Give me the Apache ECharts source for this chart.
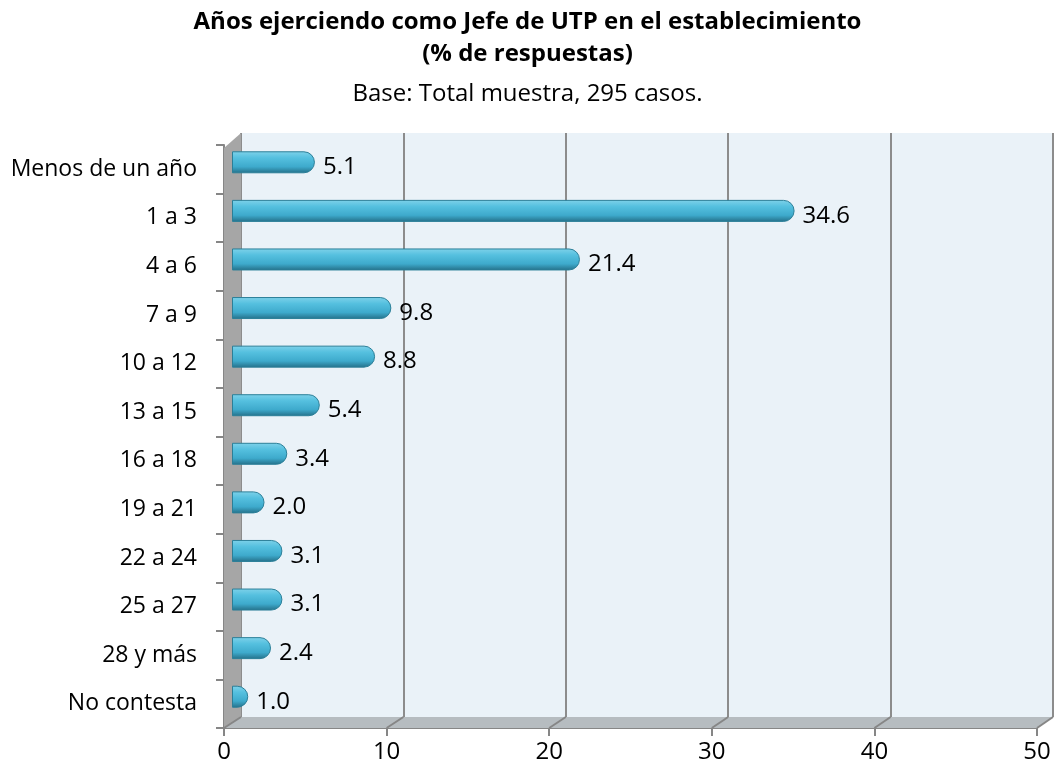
<!DOCTYPE html>
<html>
<head>
<meta charset="utf-8">
<script src="https://cdn.jsdelivr.net/npm/echarts@6/dist/echarts.min.js"></script>
<style>
  html, body { margin: 0; padding: 0; background: #fff; }
  #main { width: 1055px; height: 781px; }
</style>
</head>
<body>
<div id="main"></div>
<script>
// datos
var categories = ['Menos de un año', '1 a 3', '4 a 6', '7 a 9', '10 a 12', '13 a 15',
                  '16 a 18', '19 a 21', '22 a 24', '25 a 27', '28 y más', 'No contesta'];
var values = [5.1, 34.6, 21.4, 9.8, 8.8, 5.4, 3.4, 2.0, 3.1, 3.1, 2.4, 1.0];
var xMin = 0, xMax = 50, xStep = 10;

var font = '"Open Sans", "Noto Sans", sans-serif';

// grids: 0 = plano frontal (ejes), 1 = pared del fondo, 2 = barras (profundidad media)
var front = { left: 224, right: 18, top: 145, bottom: 53 };
var back  = { left: 241, right: 2,  top: 133, bottom: 64 };
var mid   = { left: 232, right: 10, top: 138, bottom: 60 };

var myChart = echarts.init(document.getElementById('main'));

myChart.setOption({
    animation: false,
    title: {
        text: 'Años ejerciendo como Jefe de UTP en el establecimiento\n(% de respuestas)',
        subtext: 'Base: Total muestra, 295 casos.',
        left: 'center',
        top: 1,
        itemGap: 9,
        textStyle: { fontFamily: font, fontSize: 24, fontWeight: 'bold', color: '#000', lineHeight: 32 },
        subtextStyle: { fontFamily: font, fontSize: 24, color: '#000', lineHeight: 30 }
    },
    grid: [
        { left: front.left, right: front.right, top: front.top, bottom: front.bottom, z: 3 },
        { left: back.left, right: back.right, top: back.top, bottom: back.bottom,
          show: true, backgroundColor: '#eaf2f8', borderWidth: 0, z: 0 },
        { left: mid.left, right: mid.right, top: mid.top, bottom: mid.bottom }
    ],
    xAxis: [
        {   // eje frontal con etiquetas
            gridIndex: 0, type: 'value', min: xMin, max: xMax, interval: xStep,
            axisLine: { show: true, lineStyle: { color: '#868686', width: 2 } },
            axisTick: { show: true, length: 8, lineStyle: { color: '#868686', width: 2 } },
            axisLabel: { fontFamily: font, fontSize: 24, color: '#000', margin: 12 },
            splitLine: { show: false }
        },
        {   // lineas de la pared del fondo
            gridIndex: 1, type: 'value', min: xMin, max: xMax, interval: xStep,
            axisLine: { show: false }, axisTick: { show: false }, axisLabel: { show: false },
            splitLine: { show: true, lineStyle: { color: '#8c8c8c', width: 2 } }
        },
        {
            gridIndex: 2, type: 'value', min: xMin, max: xMax, show: false
        }
    ],
    yAxis: [
        {
            gridIndex: 0, type: 'category', inverse: true, data: categories,
            axisLine: { show: true, lineStyle: { color: '#868686', width: 2 } },
            axisTick: { show: true, length: 8, lineStyle: { color: '#868686', width: 2 } },
            axisLabel: { fontFamily: font, fontSize: 23, color: '#000', margin: 27 }
        },
        { gridIndex: 1, type: 'category', inverse: true, data: categories, show: false },
        { gridIndex: 2, type: 'category', inverse: true, data: categories, show: false }
    ],
    series: [{
        type: 'bar',
        xAxisIndex: 2,
        yAxisIndex: 2,
        data: values,
        barWidth: 22,
        z: 5,
        itemStyle: {
            borderRadius: [0, 11, 11, 0],
            borderColor: '#2b7f98',
            borderWidth: 1,
            color: new echarts.graphic.LinearGradient(0, 0, 0, 1, [
                { offset: 0, color: '#7fd2ea' },
                { offset: 0.3, color: '#55c0df' },
                { offset: 0.7, color: '#3eaacc' },
                { offset: 1, color: '#246f88' }
            ])
        },
        label: {
            show: true,
            position: 'right',
            distance: 8,
            offset: [0, 5],
            fontFamily: font,
            fontSize: 24,
            color: '#000',
            formatter: function (p) { return p.value.toFixed(1); }
        }
    }]
});

// pared izquierda, piso y lineas del piso (decoracion 3D)
var W = myChart.getWidth(), H = myChart.getHeight();
var fL = front.left, fR = W - front.right, fT = front.top + 3, fB = H - front.bottom;
var bL = back.left, bR = W - back.right, bT = back.top, bB = H - back.bottom;

var shapes = [
    { type: 'polygon', z: 1, shape: { points: [[fL, fT], [bL, bT], [bL, bB], [fL, fB]] },
      style: { fill: '#a6a6a6' } },
    { type: 'polygon', z: 1, shape: { points: [[fL, fB], [fR, fB], [bR, bB], [bL, bB]] },
      style: { fill: '#b6bcc0' } }
];
for (var v = xMin; v <= xMax; v += xStep) {
    var fx = myChart.convertToPixel({ xAxisIndex: 0 }, v);
    var bx = myChart.convertToPixel({ xAxisIndex: 1 }, v);
    shapes.push({ type: 'line', z: 2, shape: { x1: fx, y1: fB, x2: bx, y2: bB },
                  style: { stroke: '#868686', lineWidth: 2 } });
}
myChart.setOption({ graphic: shapes });
</script>
</body>
</html>
